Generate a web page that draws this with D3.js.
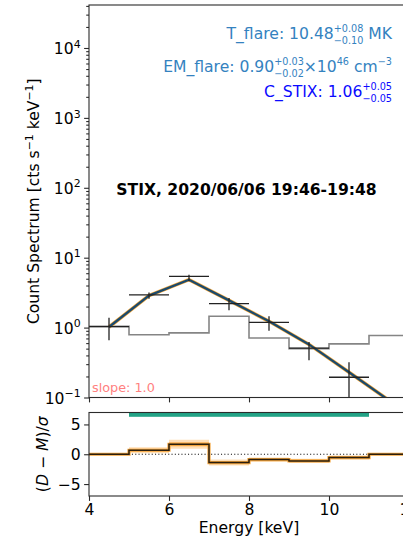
<!DOCTYPE html>
<html><head><meta charset="utf-8">
<script src="https://cdn.jsdelivr.net/npm/d3@7"></script>
<style>
html,body{margin:0;padding:0;background:#fff;overflow:hidden;}
svg{display:block;font-family:"DejaVu Sans",sans-serif;}
</style></head>
<body><svg id="c" width="403" height="540"></svg>
<script>
// ---- data ----
const binEdgesLo = [4,5,6,7,8,9,10,11];
const binEdgesHi = [5,6,7,8,9,10,11,12];
const dataCenters = [4.5,5.5,6.5,7.5,8.5,9.5,10.5];
const dataCounts  = [1.03,2.93,5.4,2.2,1.19,0.51,0.195];
const dataErrHigh = [1.38,3.19,5.7,2.66,1.45,0.62,0.32];
const dataErrLow  = [0.66,2.58,4.6,1.77,0.90,0.34,0.07];
const modelCenters = [4.5,5.5,6.5,7.5,8.5,9.5,10.5,11.5];
const modelCounts  = [1.02,2.87,4.85,2.45,1.23,0.575,0.23,0.091];
const bkgCounts    = [1.04,0.79,0.84,1.45,0.71,0.50,0.585,0.77];
const residuals    = [0,0.67,1.67,-1.4,-0.9,-1.12,-0.55,0];
const residualSpread = [0.15,0.5,0.75,0.5,0.35,0.35,0.35,0];
const fitRange = [5,11];
const xTicks = [4,6,8,10,12];
const yMajorExps = [-1,0,1,2,3,4];
const resTicks = [-5,0,5];
const title = "STIX, 2020/06/06 19:46-19:48";

// ---- layout ----
const svg = d3.select("#c");
const FS = 15.6, FONT = "DejaVu Sans";
const L = 89, R = 409, T1 = 5, B1 = 397.5, T2 = 412.5, B2 = 496;
const x = d3.scaleLinear().domain([4,12]).range([L,R]);
const y = d3.scaleLog().domain([0.1, 41200]).range([B1,T1]);
const yr = d3.scaleLinear().domain([-7,7]).range([B2,T2]);

const defs = svg.append("defs");
defs.append("clipPath").attr("id","clip1").append("rect").attr("x",L).attr("y",T1).attr("width",R-L).attr("height",B1-T1);
defs.append("clipPath").attr("id","clip2").append("rect").attr("x",L).attr("y",T2).attr("width",R-L).attr("height",B2-T2);

// ---- main panel ----
const p1 = svg.append("g").attr("clip-path","url(#clip1)");
const stepPts = binEdgesLo.map((e,i)=>[e,bkgCounts[i]]).concat([[12,bkgCounts[bkgCounts.length-1]]]);
p1.append("path").attr("d", d3.line().curve(d3.curveStepAfter).x(d=>x(d[0])).y(d=>y(d[1]))(stepPts))
  .attr("fill","none").attr("stroke","#858585").attr("stroke-width",1.6);

const mLine = d3.line().x((d,i)=>x(modelCenters[i])).y(d=>y(d));
p1.append("path").attr("d", mLine(modelCounts)).attr("fill","none").attr("stroke","#f7a93a").attr("stroke-width",3.6);
p1.append("path").attr("d", mLine(modelCounts)).attr("fill","none").attr("stroke","#1c4a6c").attr("stroke-width",2.3);

const eb = p1.append("g").attr("stroke","#222").attr("stroke-width",1.3);
dataCenters.forEach((c,i)=>{
  eb.append("line").attr("x1",x(binEdgesLo[i])).attr("x2",x(binEdgesHi[i])).attr("y1",y(dataCounts[i])).attr("y2",y(dataCounts[i]));
  eb.append("line").attr("x1",x(c)).attr("x2",x(c)).attr("y1",y(dataErrLow[i])).attr("y2",y(dataErrHigh[i]));
});

// axes main
const minor = [];
for (let e=-1;e<=4;e++) for (let m=2;m<=9;m++){ const v=m*Math.pow(10,e); if (v<=41200) minor.push(v); }
const ax1 = svg.append("g").attr("transform",`translate(${L},0)`)
  .call(d3.axisLeft(y).tickValues(yMajorExps.map(e=>Math.pow(10,e))).tickSize(4.9).tickPadding(3.5).tickFormat(()=>""));
ax1.selectAll(".tick text").each(function(d,i){
  const t = d3.select(this).attr("font-size",FS).attr("font-family",FONT).attr("fill","#000");
  t.append("tspan").text("10");
  const ex = yMajorExps[i];
  t.append("tspan").attr("dy",-6.5).attr("font-size",FS*0.7).text(ex<0?"\u2212"+(-ex):String(ex));
  t.attr("dy","0.36em");
});
svg.append("g").attr("transform",`translate(${L},0)`)
  .call(d3.axisLeft(y).tickValues(minor).tickSize(2.8).tickFormat(()=>""));
svg.append("g").attr("transform",`translate(0,${B1})`)
  .call(d3.axisBottom(x).tickValues(xTicks).tickSize(4.9).tickFormat(()=>""));
svg.selectAll(".domain").remove();
// spines
const sp = svg.append("g").attr("stroke","#2b2b2b").attr("stroke-width",1.1).attr("fill","none");
sp.append("rect").attr("x",L).attr("y",T1).attr("width",R-L).attr("height",B1-T1);

// texts main
svg.append("text").attr("x",92).attr("y",392).attr("font-size",12.8).attr("fill","#ff8080").attr("font-family",FONT).text("slope: 1.0");
svg.append("text").attr("x",246.5).attr("y",195).attr("text-anchor","middle").attr("font-size",FS).attr("font-weight","bold").attr("font-family",FONT).text(title);

function mathText(baseY, rightX, parts, color, size){
  const g = svg.append("g").attr("fill",color).attr("font-family",FONT);
  let cx = 0;
  parts.forEach(p=>{
    if (p.t!==undefined){
      const t = g.append("text").attr("x",cx).attr("y",0).attr("font-size",size).attr("xml:space","preserve").text(p.t);
      cx += t.node().getComputedTextLength();
    } else {
      let w = 0;
      if (p.sup!==undefined){
        const s = g.append("text").attr("x",cx).attr("y",-size*0.43).attr("font-size",size*0.62).text(p.sup);
        w = Math.max(w, s.node().getComputedTextLength());
      }
      if (p.sub!==undefined){
        const s = g.append("text").attr("x",cx).attr("y",size*0.3).attr("font-size",size*0.62).text(p.sub);
        w = Math.max(w, s.node().getComputedTextLength());
      }
      cx += w;
    }
  });
  g.attr("transform",`translate(${rightX-cx},${baseY})`);
}
mathText(39, 392, [{t:"T_flare: 10.48"},{sup:"+0.08",sub:"\u22120.10"},{t:" MK"}], "#3482bf", FS);
mathText(72, 392, [{t:"EM_flare: 0.90"},{sup:"+0.03",sub:"\u22120.02"},{t:"\u00d710"},{sup:"46"},{t:" cm"},{sup:"\u22123"}], "#3482bf", FS);
mathText(97, 392, [{t:"C_STIX: 1.06"},{sup:"+0.05",sub:"\u22120.05"}], "#0a0aff", FS);

// y label main
const yl = svg.append("text").attr("transform",`translate(39,${(T1+B1)/2}) rotate(-90)`).attr("text-anchor","middle")
  .attr("font-size",FS).attr("font-family",FONT);
yl.append("tspan").text("Count Spectrum [cts s");
yl.append("tspan").attr("dy",-6).attr("font-size",FS*0.7).text("\u22121");
yl.append("tspan").attr("dy",6).text(" keV");
yl.append("tspan").attr("dy",-6).attr("font-size",FS*0.7).text("\u22121");
yl.append("tspan").attr("dy",6).text("]");

// ---- residual panel ----
const p2 = svg.append("g").attr("clip-path","url(#clip2)");
const resPts = binEdgesLo.map((e,i)=>[e,residuals[i],residualSpread[i]]).concat([[12,residuals[residuals.length-1],residualSpread[residualSpread.length-1]]]);
p2.append("path").attr("d", d3.area().curve(d3.curveStepAfter).x(d=>x(d[0])).y0(d=>yr(d[1]-d[2])).y1(d=>yr(d[1]+d[2]))(resPts))
  .attr("fill","#ffb760").attr("opacity",0.45);
p2.append("path").attr("d", d3.area().curve(d3.curveStepAfter).x(d=>x(d[0])).y0(d=>yr(d[1]-d[2]*0.5)).y1(d=>yr(d[1]+d[2]*0.5))(resPts))
  .attr("fill","#ffa030").attr("opacity",0.45);
p2.append("line").attr("x1",x(4)).attr("x2",x(12)).attr("y1",yr(0)).attr("y2",yr(0))
  .attr("stroke","#111").attr("stroke-width",1.1).attr("stroke-dasharray","1.1,2.2");
const rLine = d3.line().curve(d3.curveStepAfter).x(d=>x(d[0])).y(d=>yr(d[1]));
p2.append("path").attr("d", rLine(resPts)).attr("fill","none").attr("stroke","#f3a43c").attr("stroke-width",3.2);
p2.append("path").attr("d", rLine(resPts)).attr("fill","none").attr("stroke","#2a1e0e").attr("stroke-width",1.5);
p2.append("rect").attr("x",x(fitRange[0])).attr("y",T2).attr("width",x(fitRange[1])-x(fitRange[0])).attr("height",4.3).attr("fill","#22a386");

const ax2 = svg.append("g").attr("transform",`translate(${L},0)`)
  .call(d3.axisLeft(yr).tickValues(resTicks).tickSize(4.9).tickPadding(3.5).tickFormat(d=>d<0?"\u2212"+(-d):String(d)));
const ax3 = svg.append("g").attr("transform",`translate(0,${B2})`)
  .call(d3.axisBottom(x).tickValues(xTicks).tickSize(4.9).tickPadding(3.5).tickFormat(d3.format("d")));
[ax2,ax3].forEach(a=>{a.select(".domain").remove(); a.selectAll(".tick text").attr("font-size",FS).attr("font-family",FONT).attr("fill","#000");});
svg.selectAll(".tick line").attr("stroke","#2b2b2b").attr("stroke-width",1.1);
svg.append("rect").attr("x",L).attr("y",T2).attr("width",R-L).attr("height",B2-T2)
  .attr("fill","none").attr("stroke","#2b2b2b").attr("stroke-width",1.1);

svg.append("text").attr("x",(L+R)/2).attr("y",533).attr("text-anchor","middle").attr("font-size",FS).attr("font-family",FONT).text("Energy [keV]");
const rl = svg.append("text").attr("transform",`translate(48,${(T2+B2)/2}) rotate(-90)`).attr("text-anchor","middle")
  .attr("font-size",FS).attr("font-family",FONT);
rl.append("tspan").text("(");
rl.append("tspan").attr("font-style","italic").text("D");
rl.append("tspan").text(" \u2212 ");
rl.append("tspan").attr("font-style","italic").text("M");
rl.append("tspan").text(")/");
rl.append("tspan").attr("font-style","italic").text("\u03c3");
</script></body></html>
